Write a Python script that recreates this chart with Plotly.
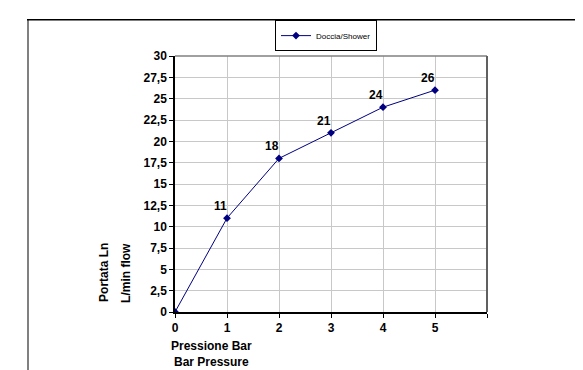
import plotly.graph_objects as go

pressure = [0, 1, 2, 3, 4, 5]
flow = [0, 11, 18, 21, 24, 26]
series_name = "Doccia/Shower"
y_ticks = [0, 2.5, 5, 7.5, 10, 12.5, 15, 17.5, 20, 22.5, 25, 27.5, 30]
x_ticks = [0, 1, 2, 3, 4, 5, 6]
x_ticktext = ["0", "1", "2", "3", "4", "5", ""]
x_title = "Pressione Bar<br>Bar Pressure"
y_title_lines = ["Portata Ln", "L/min flow"]

# page body has an 8px default margin; size the figure to fit the window
OFF = 8
W, H = 583 - OFF, 370 - OFF
PL, PR, PT, PB = 175, 487, 50, 312  # plot area in window pixels
L, R, T, B = PL - OFF, 583 - PR, PT - OFF, 370 - PB
pw, ph = PR - PL, PB - PT

def px(x):
    return (x - PL) / pw

def py(y):
    return (PB - y) / ph

FONT = "Liberation Sans, Arial, sans-serif"
NAVY = "#000080"

fig = go.Figure()
fig.add_trace(go.Scatter(
    x=pressure, y=flow, mode="lines+markers", name=series_name,
    line=dict(color=NAVY, width=1),
    marker=dict(symbol="diamond", size=6, color=NAVY),
))

annotations = []
for xv, yv in zip(pressure[1:], flow[1:]):
    annotations.append(dict(
        x=xv, y=yv, xref="x", yref="y", text="<b>%d</b>" % yv, showarrow=False,
        xshift=-7, yshift=12, font=dict(family=FONT, size=12, color="black"),
    ))

annotations.append(dict(
    x=px(211), y=py(355), xref="paper", yref="paper", text="<b>%s</b>" % x_title,
    showarrow=False, font=dict(family=FONT, size=12, color="black"),
    xanchor="center", yanchor="middle",
))
for xc, t in zip([104, 126], y_title_lines):
    annotations.append(dict(
        x=px(xc), y=py(272), xref="paper", yref="paper", text="<b>%s</b>" % t,
        showarrow=False, textangle=-90, font=dict(family=FONT, size=12, color="black"),
        xanchor="center", yanchor="middle",
    ))

shapes = [
    # outer chart frame
    dict(type="line", xref="paper", yref="paper", x0=px(28), x1=px(28), y0=py(13), y1=py(380),
         line=dict(color="#808080", width=2)),
    dict(type="line", xref="paper", yref="paper", x0=px(27), x1=px(600), y0=py(13), y1=py(13),
         line=dict(color="black", width=1.5)),
    # plot area top & right border
    dict(type="line", xref="paper", yref="paper", x0=0, x1=1, y0=1, y1=1,
         line=dict(color="#808080", width=1.5)),
    dict(type="line", xref="paper", yref="paper", x0=1, x1=1, y0=0, y1=1,
         line=dict(color="#606060", width=2)),
]

fig.update_layout(
    width=W, height=H, margin=dict(l=L, r=R, t=T, b=B),
    paper_bgcolor="white", plot_bgcolor="white",
    separators=",.",
    showlegend=True,
    legend=dict(
        orientation="h", x=px(326), y=py(45), xanchor="center", yanchor="bottom",
        bordercolor="black", borderwidth=1, bgcolor="white",
        font=dict(family="Liberation Sans Narrow, " + FONT, size=8, color="black"),
        itemwidth=30, tracegroupgap=0,
    ),
    xaxis=dict(
        range=[0, 6], tickmode="array", tickvals=x_ticks, ticktext=x_ticktext,
        showgrid=True, gridcolor="#c8c8c8", gridwidth=1,
        showline=True, linecolor="black", linewidth=1.5,
        ticks="outside", ticklen=4, tickcolor="black",
        tickfont=dict(family=FONT, size=12, color="black", weight="bold"),
        zeroline=False, fixedrange=True,
    ),
    yaxis=dict(
        range=[0, 30], tickmode="array", tickvals=y_ticks,
        showgrid=True, gridcolor="#c8c8c8", gridwidth=1,
        showline=True, linecolor="black", linewidth=1.5,
        ticks="outside", ticklen=4, tickcolor="black",
        tickfont=dict(family=FONT, size=12, color="black", weight="bold"),
        zeroline=False, fixedrange=True,
    ),
    annotations=annotations,
    shapes=shapes,
)

fig.write_html("out.html")
